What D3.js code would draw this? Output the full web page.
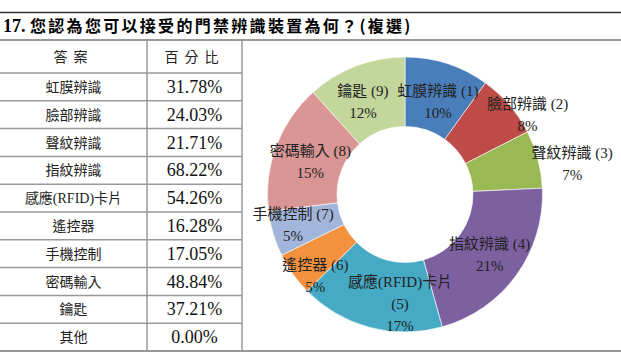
<!DOCTYPE html>
<html>
<head>
<meta charset="utf-8">
<script src="https://cdn.jsdelivr.net/npm/d3@7"></script>
<style>
  body { margin: 0; background: #fff; }
  svg { display: block; }
</style>
</head>
<body>
<div class="canvas"></div>
<script>
const w = 621;
const h = 356;

const title = "17. ";
const question = "您認為您可以接受的門禁辨識裝置為何？(複選)";
const headers = ["答案", "百分比"];
const answers = ["虹膜辨識", "臉部辨識", "聲紋辨識", "指紋辨識", "感應(RFID)卡片", "遙控器", "手機控制", "密碼輸入", "鑰匙", "其他"];
const percents = [31.78, 24.03, 21.71, 68.22, 54.26, 16.28, 17.05, 48.84, 37.21, 0.00];

const colors = ["#4A7EBB", "#BE4B48", "#98B954", "#7D60A0", "#46AAC5", "#F3913F", "#A2B5DB", "#D99694", "#C3D69B"];
// where each donut label sits: radius and angle shift from the slice middle (Excel "best fit")
const labelRadius = [98, 146, 170, 104, 110, 121, 116, 100, 102];
const labelTurn = [1.7, 7.7, 4.5, -0.4, -12.3, -6.8, 1.4, -1.7, -3.4];

const serif = "'Liberation Serif', 'Times New Roman', 'Noto Sans CJK TC', serif";
const cjk = "'Noto Sans CJK TC', 'Noto Sans CJK SC', sans-serif";

const svg = d3.select(".canvas")
  .append("svg")
  .attr("width", w)
  .attr("height", h);

// layout of the table
const tableTop = 40, headBottom = 73, tableBottom = 351;
const col1 = 147, col2 = 242;

const rows = d3.scaleBand()
  .domain(d3.range(answers.length))
  .range([headBottom, tableBottom]);

// title
const t = svg.append("text")
  .attr("x", 3)
  .attr("y", 32)
  .style("font-weight", "bold");
t.append("tspan")
  .style("font-family", serif)
  .style("font-size", "18px")
  .text(title);
t.append("tspan")
  .style("font-family", cjk)
  .style("font-size", "16px")
  .style("letter-spacing", "2.3px")
  .text(question);

// lines
svg.append("line").attr("x1", 0).attr("x2", w).attr("y1", 12.5).attr("y2", 12.5)
  .attr("stroke", "#333").attr("stroke-width", 1.5);
svg.append("line").attr("x1", 0).attr("x2", w).attr("y1", tableTop).attr("y2", tableTop)
  .attr("stroke", "#999").attr("stroke-width", 2);
svg.append("line").attr("x1", 0).attr("x2", w).attr("y1", tableBottom).attr("y2", tableBottom)
  .attr("stroke", "#999").attr("stroke-width", 2);

svg.selectAll(".rowline")
  .data(d3.range(answers.length))
  .enter().append("line")
  .attr("class", "rowline")
  .attr("x1", 0).attr("x2", col2)
  .attr("y1", d => rows(d)).attr("y2", d => rows(d))
  .attr("stroke", "#999").attr("stroke-width", 1.5);

[col1, col2].forEach(x => {
  svg.append("line").attr("x1", x).attr("x2", x).attr("y1", tableTop).attr("y2", tableBottom)
    .attr("stroke", "#999").attr("stroke-width", 1.5);
});

// header
svg.selectAll(".head")
  .data(headers)
  .enter().append("text")
  .attr("class", "head")
  .attr("x", (d, i) => i == 0 ? col1 / 2 : (col1 + col2) / 2)
  .attr("y", (tableTop + headBottom) / 2 + 5)
  .attr("text-anchor", "middle")
  .style("font-family", cjk)
  .style("font-size", "14px")
  .style("letter-spacing", "6px")
  .style("fill", "#222")
  .text(d => d);

// table rows
const row = svg.selectAll(".row")
  .data(answers)
  .enter().append("g")
  .attr("class", "row")
  .attr("transform", (d, i) => "translate(0," + (rows(i) + rows.bandwidth() / 2) + ")");

row.append("text")
  .attr("x", col1 / 2)
  .attr("y", 5)
  .attr("text-anchor", "middle")
  .style("font-family", serif)
  .style("font-size", "14px")
  .style("fill", "#222")
  .text(d => d);

row.append("text")
  .attr("x", (col1 + col2) / 2)
  .attr("y", 6)
  .attr("text-anchor", "middle")
  .style("font-family", serif)
  .style("font-size", "18px")
  .style("fill", "#111")
  .text((d, i) => percents[i].toFixed(2) + "%");

// donut
const cx = 405, cy = 194.5, outer = 137.5, inner = 68;
const slices = answers.slice(0, 9).map((a, i) => ({ name: a, value: percents[i], idx: i }));
const total = d3.sum(slices, d => d.value);

const pie = d3.pie().sort(null).value(d => d.value);
const arc = d3.arc().innerRadius(inner).outerRadius(outer);

const donut = svg.append("g")
  .attr("transform", "translate(" + cx + "," + cy + ")");

const arcs = pie(slices);

donut.selectAll("path")
  .data(arcs)
  .enter().append("path")
  .attr("d", arc)
  .attr("fill", d => colors[d.data.idx])
  .attr("stroke", "#fff")
  .attr("stroke-width", 0.6);

const labels = donut.selectAll(".lbl")
  .data(arcs)
  .enter().append("text")
  .attr("class", "lbl")
  .attr("text-anchor", "middle")
  .style("font-family", serif)
  .style("font-size", "15px")
  .style("fill", "#222")
  .each(function(d) {
    const i = d.data.idx;
    const a = (d.startAngle + d.endAngle) / 2 + labelTurn[i] * Math.PI / 180;
    const c = [labelRadius[i] * Math.sin(a), -labelRadius[i] * Math.cos(a)];
    const n = "(" + (i + 1) + ")";
    const pct = Math.round(d.data.value / total * 100) + "%";
    const lines = d.data.name.length > 6 ? [d.data.name, n, pct] : [d.data.name + " " + n, pct];
    const lh = 22;
    const y0 = c[1] - (lines.length - 1) * lh / 2 + 5;
    d3.select(this).selectAll("tspan")
      .data(lines)
      .enter().append("tspan")
      .attr("x", c[0])
      .attr("y", (l, k) => y0 + k * lh)
      .text(l => l);
  });
</script>
</body>
</html>
